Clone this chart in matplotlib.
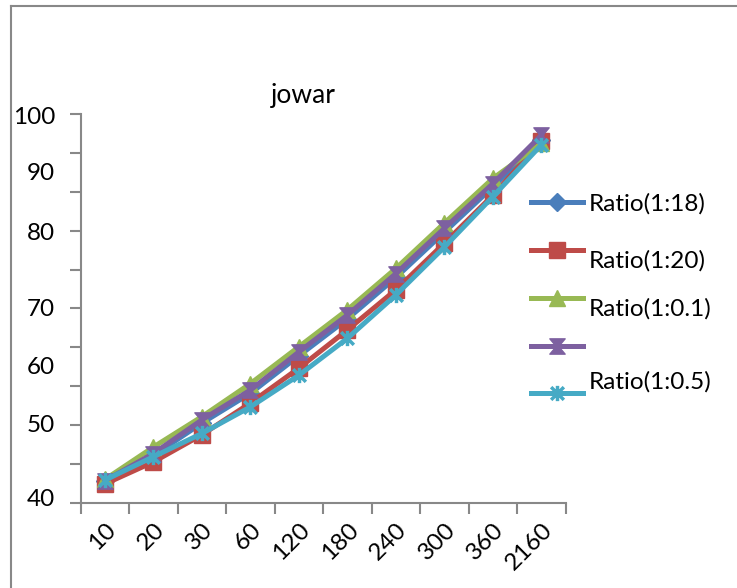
import matplotlib
matplotlib.use("Agg")
import matplotlib.pyplot as plt
import numpy as np
from matplotlib.path import Path
from matplotlib.lines import Line2D
from matplotlib.transforms import blended_transform_factory

plt.rcParams['font.family'] = ['Lato', 'DejaVu Sans']

categories = ['10', '20', '30', '60', '120', '180', '240', '300', '360', '2160']
ratio_1_18 = [43.3, 47.3, 52.3, 56.9, 62.7, 68.4, 74.8, 81.8, 88.8, 96.0]
ratio_1_20 = [42.9, 46.3, 50.5, 55.4, 60.8, 66.7, 72.9, 80.1, 87.5, 95.8]
ratio_1_0_1 = [43.6, 48.6, 53.3, 58.4, 64.1, 69.8, 76.2, 83.2, 90.1, 95.5]
ratio_unnamed = [43.4, 47.6, 52.8, 57.4, 63.3, 69.0, 75.4, 82.4, 89.3, 96.8]
ratio_1_0_5 = [43.5, 47.1, 50.7, 54.8, 59.7, 65.4, 72.1, 79.5, 87.3, 95.3]
labels = ['Ratio(1:18)', 'Ratio(1:20)', 'Ratio(1:0.1)', '', 'Ratio(1:0.5)']
yticklabels = ['100', '90', '80', '70', '60', '50', '40']

# pixel rows where the reference draws each y label
ylabel_rows = [117, 174, 233, 309, 367, 425, 500]

hourglass = Path([(-1, 1), (1, 1), (0.15, 0), (1, -1), (-1, -1), (-0.15, 0), (-1, 1)],
                 [Path.MOVETO] + [Path.LINETO] * 5 + [Path.CLOSEPOLY])
star = Path([(-1, -1), (1, 1), (-1, 1), (1, -1), (0, -1.2), (0, 1.2)],
            [Path.MOVETO, Path.LINETO, Path.MOVETO, Path.LINETO, Path.MOVETO, Path.LINETO])

colors = ['#4a7ebb', '#be4b48', '#98b954', '#7d60a0', '#46aac5']
markers = ['D', 's', '^', hourglass, star]
msizes = [9, 11, 11, 11, 11]
series = [ratio_1_18, ratio_1_20, ratio_1_0_1, ratio_unnamed, ratio_1_0_5]

W, H = 737, 588
FS = 17.5
fig = plt.figure(figsize=(W / 100, H / 100), dpi=100)
ax = fig.add_axes([80.7 / W, 1 - 502.7 / H, (565.7 - 80.7) / W, (502.7 - 114.3) / H])

x = np.arange(len(categories)) + 0.5
for s, c, m, ms in zip(series, colors, markers, msizes):
    mew = 2.5 if m is star else 1
    ax.plot(x, s, color=c, lw=3.6, marker=m, markersize=ms, markerfacecolor=c,
            markeredgecolor=c, markeredgewidth=mew, solid_joinstyle='round')

ax.set_xlim(0, len(categories))
ax.set_ylim(40, 100)
ax.set_xticks(np.arange(len(categories) + 1))
ax.set_xticklabels([])
ax.set_xticks(x, minor=True)
ax.set_xticklabels(categories, minor=True, rotation=45, ha='right', va='top',
                   rotation_mode='anchor', fontsize=FS)
ax.set_yticks(np.linspace(40, 100, 11))
ax.set_yticklabels([])
ax.tick_params(axis='x', which='major', length=8, width=1.5, color='#888888', direction='out')
ax.tick_params(axis='y', which='major', length=8, width=1.5, color='#888888', direction='out')
ax.tick_params(axis='x', which='minor', length=0, pad=12)
for sp in ['top', 'right']:
    ax.spines[sp].set_visible(False)
for sp in ['left', 'bottom']:
    ax.spines[sp].set_color('#888888')
    ax.spines[sp].set_linewidth(1.5)

for lab, row in zip(yticklabels, ylabel_rows):
    fig.text(55 / W, 1 - row / H, lab, ha='right', va='center', fontsize=FS)

fig.text(303 / W, 1 - 96 / H, 'jowar', ha='center', va='center', fontsize=19)

# legend
leg_line_y = [202, 250, 298, 346, 393]
leg_text_y = [204, 261, 309, None, 382]
for c, m, ms, ly, ty, lab in zip(colors, markers, msizes, leg_line_y, leg_text_y, labels):
    mew = 2.5 if m is star else 1
    fig.add_artist(Line2D([531 / W, 583 / W], [1 - ly / H, 1 - ly / H], color=c, lw=3.6,
                          transform=fig.transFigure))
    fig.add_artist(Line2D([557 / W], [1 - ly / H], color=c, marker=m, markersize=ms,
                          markerfacecolor=c, markeredgecolor=c, markeredgewidth=mew,
                          transform=fig.transFigure))
    if ty is not None and lab:
        fig.text(589 / W, 1 - ty / H, lab, ha='left', va='center', fontsize=FS)

# outer border (left and top)
fig.add_artist(Line2D([11 / W, 11 / W], [0, 1 - 6 / H], color='#888888', lw=1.5,
                      transform=fig.transFigure))
fig.add_artist(Line2D([11 / W, 1], [1 - 6 / H, 1 - 6 / H], color='#888888', lw=1.5,
                      transform=fig.transFigure))

fig.savefig('out.png', dpi=100)
